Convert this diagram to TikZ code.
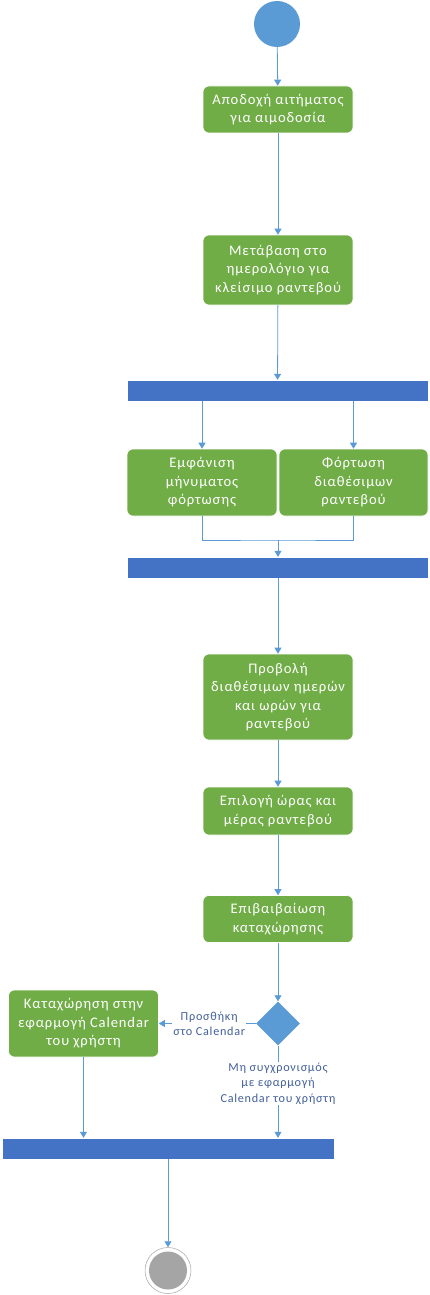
\documentclass[tikz,border=0pt]{standalone}
\usepackage{fontspec}
\setmainfont{Carlito}[LetterSpace=6]
\usetikzlibrary{arrows.meta,shapes.geometric}
\definecolor{actgreen}{HTML}{70AD47}
\definecolor{barblue}{HTML}{4472C4}
\definecolor{lineblue}{HTML}{5B9BD5}
\definecolor{lbltext}{HTML}{44609A}
\definecolor{endgray}{HTML}{A5A5A5}
\tikzset{
  act/.style={rectangle, rounded corners=6pt, fill=actgreen, draw=white, line width=0.6pt, text=white,
    align=center, inner sep=0pt, font=\fontsize{14.6}{18.5}\selectfont},
  bar/.style={rectangle, fill=barblue, draw=white, line width=0.4pt, inner sep=0pt},
  flow/.style={draw=lineblue, line width=0.8pt, -{Triangle[width=7pt,length=6pt]}},
  plain/.style={draw=lineblue, line width=0.8pt},
  lbl/.style={fill=white, text=lbltext, align=center, inner sep=1pt, font=\fontsize{12.2}{15.5}\selectfont},
}
\begin{document}
\begin{tikzpicture}[x=1pt,y=-1pt]
\useasboundingbox (0,0) rectangle (430,1295);
% start
\node[circle, fill=lineblue, minimum size=46pt, inner sep=0pt] (start) at (277,24) {};
% activities
\node[act, minimum width=150pt, minimum height=47pt] (a1) at (278,109.5) {Αποδοχή αιτήματος\\για αιμοδοσία};
\node[act, minimum width=150pt, minimum height=70pt] (a2) at (278,270) {Μετάβαση στο\\ημερολόγιο για\\κλείσιμο ραντεβού};
\node[bar, minimum width=301pt, minimum height=21pt] (b1) at (277.5,390.5) {};
\node[act, minimum width=150pt, minimum height=67pt] (a3) at (202,482.5) {Εμφάνιση\\μήνυματος\\φόρτωσης};
\node[act, minimum width=149pt, minimum height=67pt] (a4) at (353.5,482.5) {Φόρτωση\\διαθέσιμων\\ραντεβού};
\node[bar, minimum width=301pt, minimum height=21pt] (b2) at (277.5,567.5) {};
\node[act, minimum width=150pt, minimum height=86pt] (a5) at (278,697) {Προβολή\\διαθέσιμων ημερών\\και ωρών για\\ραντεβού};
\node[act, minimum width=150pt, minimum height=48pt] (a6) at (278,811) {Επιλογή ώρας και\\μέρας ραντεβού};
\node[act, minimum width=150pt, minimum height=47pt] (a7) at (278,919) {Επιβαιβαίωση\\καταχώρησης};
\node[diamond, fill=lineblue, minimum width=44pt, minimum height=44pt, inner sep=0pt] (d) at (278,1023.5) {};
\node[act, minimum width=150pt, minimum height=67pt] (a8) at (83.5,1023.5) {Καταχώρηση στην\\εφαρμογή Calendar\\του χρήστη};
\node[bar, minimum width=332pt, minimum height=21pt] (b3) at (168,1148.5) {};
% end
\node[circle, draw=endgray, line width=0.5pt, fill=white, minimum size=46pt, inner sep=0pt] (end) at (168,1270.5) {};
\node[circle, fill=endgray, minimum size=38pt, inner sep=0pt] (endin) at (168,1270.5) {};
% connectors
\draw[flow] (start) -- (a1);
\draw[flow] (a1) -- (a2);
\draw[flow] (a2) -- (b1);
\draw[flow] (b1.south -| a3) -- (a3);
\draw[flow] (b1.south -| a4) -- (a4);
\coordinate (j) at (278,540);
\draw[plain] (a3.south) |- (j) -| (a4.south);
\draw[flow] (j) -- (b2.north -| j);
\draw[flow] (b2.south -| a5) -- (a5);
\draw[flow] (a5) -- (a6);
\draw[flow] (a6) -- (a7);
\draw[flow] (a7) -- (d);
\draw[flow] (d.west) -- node[lbl, pos=0.48] {Προσθήκη\\στο Calendar} (a8.east);
\draw[flow] (d.south) -- node[lbl, pos=0.41] {Μη συγχρονισμός\\με εφαρμογή\\Calendar του χρήστη} (b3.north -| d);
\draw[flow] (a8.south) -- (b3.north -| a8);
\draw[flow] (b3.south -| end) -- (end);
\end{tikzpicture}
\end{document}
